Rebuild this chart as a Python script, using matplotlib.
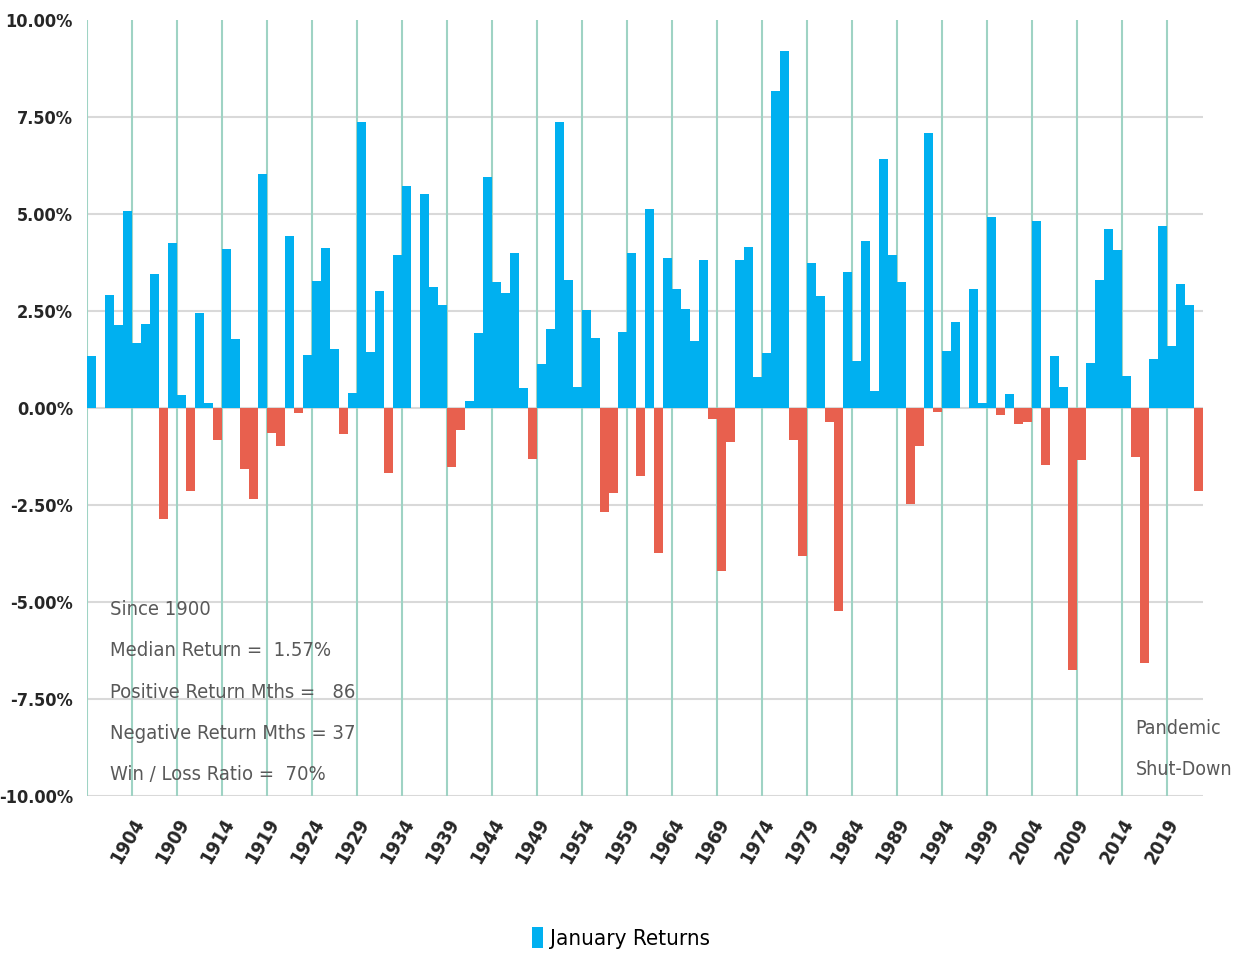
import numpy as np
import matplotlib
matplotlib.use("Agg")
from matplotlib import pyplot as plt

plt.rcParams['font.family'] = ['DejaVu Sans']
plt.rcParams['font.stretch'] = 'condensed'

# January returns (%) by year
years = list(range(1900, 2024))
returns = [
    1.34, 0.00, 2.91, 2.13, 5.09, 1.69, 2.16, 3.46, -2.85, 4.26,
    0.34, -2.14, 2.45, 0.12, -0.82, 4.10, 1.77, -1.58, -2.33, 6.04,
    -0.63, -0.98, 4.43, -0.12, 1.37, 3.27, 4.13, 1.53, -0.66, 0.40,
    7.38, 1.45, 3.03, -1.66, 3.94, 5.73, 0.00, 5.53, 3.13, 2.65,
    -1.52, -0.57, 0.18, 1.94, 5.96, 3.24, 2.97, 4.00, 0.53, -1.31,
    1.14, 2.05, 7.38, 3.31, 0.54, 2.52, 1.81, -2.69, -2.18, 1.96,
    3.99, -1.74, 5.12, -3.73, 3.86, 3.07, 2.56, 1.73, 3.82, -0.27,
    -4.20, -0.88, 3.82, 4.15, 0.79, 1.42, 8.17, 9.21, -0.82, -3.80,
    3.74, 2.89, -0.36, -5.23, 3.52, 1.21, 4.31, 0.43, 6.41, 3.94,
    3.24, -2.47, -0.98, 7.08, -0.10, 1.48, 2.21, 0.00, 3.06, 0.12,
    4.92, -0.19, 0.36, -0.40, -0.36, 4.82, -1.46, 1.34, 0.54, -6.76,
    -1.35, 1.17, 3.31, 4.62, 4.07, 0.82, -1.27, -6.56, 1.27, 4.70,
    1.59, 3.19, 2.67, -2.14,
]
label_years = list(range(1904, 2020, 5))
yticks = [-10, -7.5, -5, -2.5, 0, 2.5, 5, 7.5, 10]

stats_text = ["Since 1900",
              "Median Return =  1.57%",
              "Positive Return Mths =   86",
              "Negative Return Mths = 37",
              "Win / Loss Ratio =  70%"]

blue = "#00B0F0"
red = "#E8604E"

x = np.arange(len(years))
r = np.array(returns)
pos = np.where(r > 0, r, 0)
neg = np.where(r < 0, r, 0)

fig = plt.figure(figsize=(12.42, 9.58), dpi=100)
ax = fig.add_axes([0.070, 0.169, 0.8986, 0.810])

# gridlines
ax.hlines([t for t in yticks if t < 10], -0.5, len(years) - 0.5,
          color="#D9D9D9", lw=1.5, zorder=1)
ax.vlines(np.arange(-0.5, len(years), 5), -10, 10,
          color="#9FD3C4", lw=1.5, zorder=1)

ax.bar(x, pos, width=1.0, color=blue, label="January Returns", zorder=2)
ax.bar(x, neg, width=1.0, color=red, label="_nolegend_", zorder=2)

ax.set_xlim(-0.5, len(years) - 0.5)
ax.set_ylim(-10, 10)
ax.set_yticks(yticks)
ax.set_yticklabels(["%.2f%%" % t for t in yticks], fontsize=13,
                   fontweight="bold", color="#262626")
ax.set_xticks([years.index(y) for y in label_years])
ax.set_xticklabels([str(y) for y in label_years], rotation=60, ha="center",
                   fontsize=14, fontweight="bold", color="#262626")
ax.tick_params(axis="y", length=0, pad=10)
ax.tick_params(axis="x", length=0, pad=14)
for s in ax.spines.values():
    s.set_visible(False)

for k, line in enumerate(stats_text):
    ax.text(2.1, -5.2 - k * 1.06, line, fontsize=14.5, color="#595959",
            va="center", ha="left")
ax.text(116.0, -8.25, "Pandemic", fontsize=14, color="#595959",
        va="center", ha="left")
ax.text(116.0, -9.32, "Shut-Down", fontsize=14, color="#595959",
        va="center", ha="left")

fig.legend(loc="center", bbox_to_anchor=(0.5, 0.021), frameon=False,
           fontsize=16, handlelength=0.5, handleheight=1.1,
           handletextpad=0.3)

plt.savefig("out.png", dpi=100)
